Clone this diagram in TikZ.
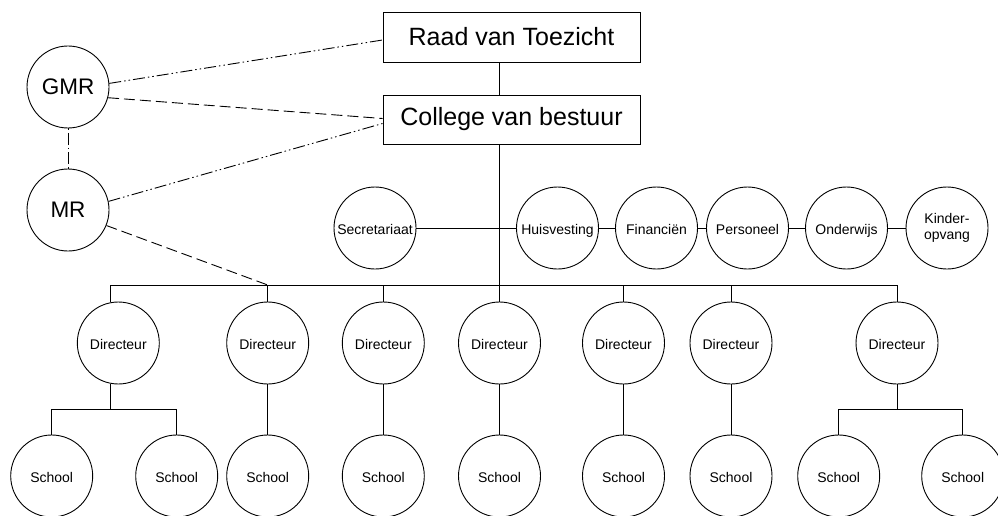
\documentclass[tikz,border=0pt]{standalone}
\usepackage{fontspec}
\setmainfont{Liberation Sans}
\begin{document}
\begin{tikzpicture}[x=1pt,y=-1pt,line width=0.9pt,
  box/.style={draw, minimum width=257pt, minimum height=50pt, inner sep=0pt, font=\fontsize{25}{30}\selectfont},
  big/.style={draw, circle, minimum size=82pt, inner sep=0pt, font=\fontsize{22.5}{27}\selectfont},
  smallbase/.style={draw, circle, minimum size=82pt, inner sep=0pt, font=\fontsize{14}{16.5}\selectfont, align=center},
  small/.style={smallbase, text height=12pt, text depth=0pt},
  dashdotdot/.style={dash pattern=on 12pt off 3pt on 1.5pt off 3pt on 1.5pt off 3pt},
  dashline/.style={dash pattern=on 11pt off 5pt},
  dashdot/.style={dash pattern=on 1.5pt off 3pt on 12pt off 3pt},
]
\useasboundingbox (0,0) rectangle (998,516);
% top
\node[box] (raad) at (511.5,37) {Raad van Toezicht};
\node[box, minimum height=49pt] (coll) at (511.5,119.5) {College van bestuur};
\node[big] (gmr) at (68,87) {GMR};
\node[big] (mr) at (68,210) {MR};
% staff
\node[small] (sec) at (375,228) {Secretariaat};
\node[small] (hv) at (557.5,228) {Huisvesting};
\node[small] (fin) at (656.5,228) {Financiën};
\node[small] (pers) at (747.5,228) {Personeel};
\node[small] (ond) at (846.5,228) {Onderwijs};
\node[smallbase] (kind) at (947,228) {Kinder-\\opvang};
% directeurs
\node[small] (d1) at (118.3,343) {Directeur};
\node[small] (d2) at (267.7,343) {Directeur};
\node[small] (d3) at (383.3,343) {Directeur};
\node[small] (d4) at (499.5,343) {Directeur};
\node[small] (d5) at (623.5,343) {Directeur};
\node[small] (d6) at (731,343) {Directeur};
\node[small] (d7) at (897,343) {Directeur};
% schools
\node[small] (s1) at (51.7,476) {School};
\node[small] (s2) at (176.7,476) {School};
\node[small] (s3) at (267.7,476) {School};
\node[small] (s4) at (383.3,476) {School};
\node[small] (s5) at (499.5,476) {School};
\node[small] (s6) at (623.5,476) {School};
\node[small] (s7) at (731,476) {School};
\node[small] (s8) at (838.7,476) {School};
\node[small] (s9) at (962.7,476) {School};
% helper coordinates
\coordinate (b1) at (110.7,285);
\coordinate (t1) at (110.7,409.3);
\coordinate (b2) at (d2.north |- b1);
\coordinate (b7) at (d7.north |- b1);
% main spine
\draw (raad.south -| d4.north) -- (coll.north -| d4.north);
\draw (coll.south -| d4.north) -- (d4.north);
% staff line
\draw (sec.east) -- (hv.west);
\draw (hv.east) -- (fin.west);
\draw (fin.east) -- (pers.west);
\draw (pers.east) -- (ond.west);
\draw (ond.east) -- (kind.west);
% bus
\draw (b1) -- (b7);
\draw (b1) -- (b1 |- d1.north);
\draw (b2) -- (d2.north);
\draw (d3.north |- b1) -- (d3.north);
\draw (d5.north |- b1) -- (d5.north);
\draw (d6.north |- b1) -- (d6.north);
\draw (b7) -- (d7.north);
% directeur to schools
\draw (b1 |- d1.south) -- (t1);
\draw (s1.north |- t1) -- (s2.north |- t1);
\draw (s1.north |- t1) -- (s1.north);
\draw (s2.north |- t1) -- (s2.north);
\draw (d2.south) -- (s3.north);
\draw (d3.south) -- (s4.north);
\draw (d4.south) -- (s5.north);
\draw (d5.south) -- (s6.north);
\draw (d6.south) -- (s7.north);
\draw (d7.south) -- (d7.south |- t1);
\draw (s8.north |- t1) -- (s9.north |- t1);
\draw (s8.north |- t1) -- (s8.north);
\draw (s9.north |- t1) -- (s9.north);
% participation lines
\draw[dashdotdot] (gmr.5) -- ([yshift=-3pt]raad.west);
\draw[dashline] (gmr.-15) -- ([yshift=1pt]coll.west);
\draw[dashdotdot] (mr.12) -- ([yshift=-4pt]coll.west);
\draw[dashline] (mr.-22) -- (b2);
\draw[dashdot] (gmr.south) -- (mr.north);
\end{tikzpicture}
\end{document}
